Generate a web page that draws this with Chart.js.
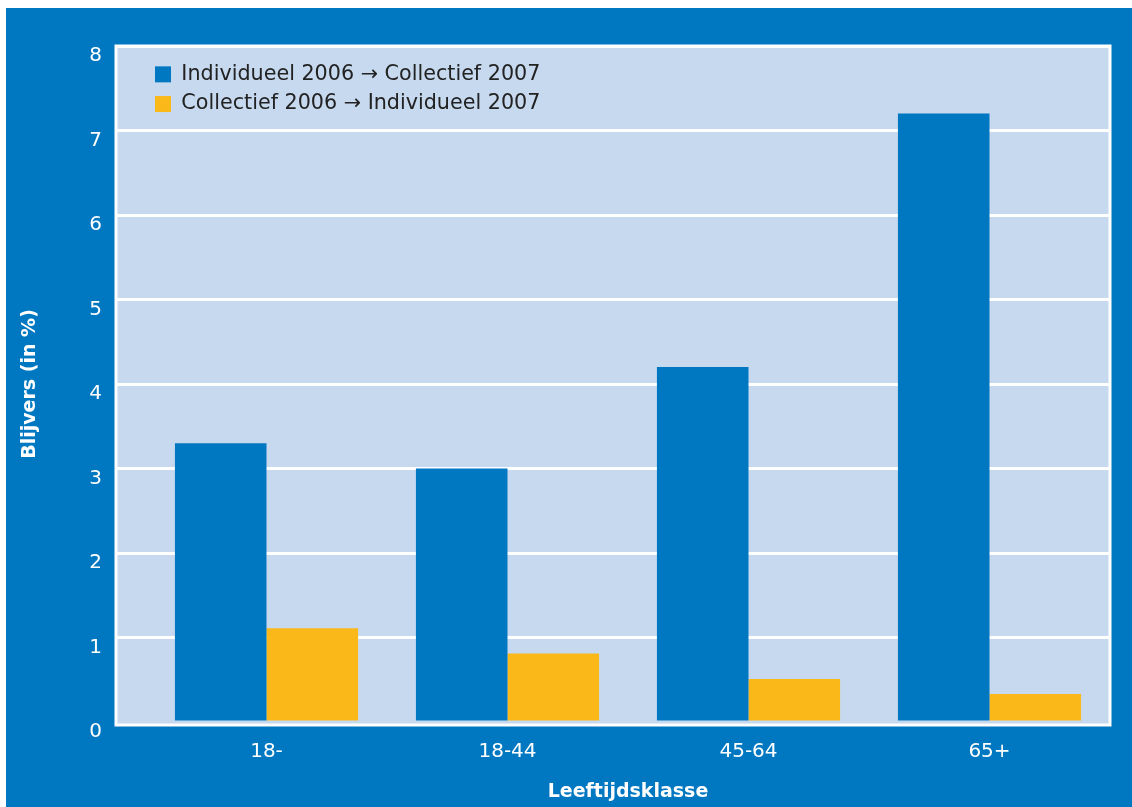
<!DOCTYPE html>
<html>
<head>
<meta charset="utf-8">
<script src="https://cdn.jsdelivr.net/npm/chart.js@4/dist/chart.umd.min.js"></script>
<style>
  html, body { margin: 0; padding: 0; background: #ffffff; }
  #frame {
    position: absolute; left: 6px; top: 8px;
    width: 1126px; height: 799px;
    background: #0078c1;
  }
</style>
</head>
<body>
<div id="frame"><canvas id="blijversChart"></canvas></div>
<script>
// Blijvers per leeftijdsklasse
const categories = ['18-', '18-44', '45-64', '65+'];
const individueelNaarCollectief = [3.3, 3.0, 4.2, 7.2];
const collectiefNaarIndividueel = [1.11, 0.81, 0.51, 0.33];
const yTicks = [0, 1, 2, 3, 4, 5, 6, 7, 8];

const FONT = 'DejaVu Sans';

const plotFrame = {
    id: 'plotFrame',
    beforeDraw(chart) {
        const { ctx, chartArea: a } = chart;
        ctx.save();
        ctx.fillStyle = '#c6d9ef';
        ctx.fillRect(a.left - 30, a.top, a.right - a.left + 30, a.bottom + 3 - a.top);
        ctx.restore();
    },
    afterDraw(chart) {
        const { ctx, chartArea: a } = chart;
        ctx.save();
        ctx.strokeStyle = '#ffffff';
        ctx.lineWidth = 3;
        ctx.strokeRect(a.left - 30, a.top, a.right - a.left + 30, a.bottom + 3 - a.top);
        ctx.restore();
    }
};

const ctx = document.getElementById('blijversChart').getContext('2d');

new Chart(ctx, {
    type: 'bar',
    data: {
        labels: categories,
        datasets: [{
            label: 'Individueel 2006 \u2192 Collectief 2007',
            data: individueelNaarCollectief,
            backgroundColor: '#0078c1'
        }, {
            label: 'Collectief 2006 \u2192 Individueel 2007',
            data: collectiefNaarIndividueel,
            backgroundColor: '#fbb919'
        }]
    },
    options: {
        responsive: true,
        maintainAspectRatio: false,
        animation: false,
        layout: {
            padding: { top: 38, right: 22, left: 0, bottom: 0 }
        },
        datasets: {
            bar: {
                categoryPercentage: 0.76,
                barPercentage: 1.0,
                borderWidth: 0
            }
        },
        scales: {
            x: {
                grid: { display: false },
                border: { display: false },
                ticks: {
                    color: '#ffffff',
                    padding: 10,
                    font: { family: FONT, size: 20 }
                },
                title: {
                    display: true,
                    text: 'Leeftijdsklasse',
                    color: '#ffffff',
                    padding: { top: 0, bottom: 4 },
                    font: { family: FONT, size: 19, weight: 'bold' }
                },
                afterFit(scale) { scale.height = 85; }
            },
            y: {
                min: 0,
                max: 8,
                afterBuildTicks(scale) {
                    scale.ticks = yTicks.map(v => ({ value: v }));
                },
                grid: {
                    color: c => (c.tick && c.tick.value === 0 ? 'rgba(0,0,0,0)' : '#ffffff'),
                    lineWidth: 3,
                    tickLength: 30
                },
                border: { display: false },
                ticks: {
                    color: '#ffffff',
                    padding: 14,
                    labelOffset: 10,
                    font: { family: FONT, size: 20 }
                },
                title: {
                    display: true,
                    text: 'Blijvers (in %)',
                    color: '#ffffff',
                    padding: { top: 13, bottom: 0 },
                    font: { family: FONT, size: 19, weight: 'bold' }
                },
                afterFit(scale) { scale.width = 140; }
            }
        },
        plugins: {
            legend: {
                position: 'chartArea',
                align: 'start',
                title: {
                    display: true,
                    text: '',
                    padding: { top: 46, bottom: 0 },
                    font: { size: 1, lineHeight: 1 }
                },
                labels: {
                    color: '#222222',
                    boxWidth: 16,
                    boxHeight: 16,
                    padding: 9,
                    font: { family: FONT, size: 20.7 }
                }
            },
            tooltip: { enabled: false }
        }
    },
    plugins: [plotFrame]
});
</script>
</body>
</html>
